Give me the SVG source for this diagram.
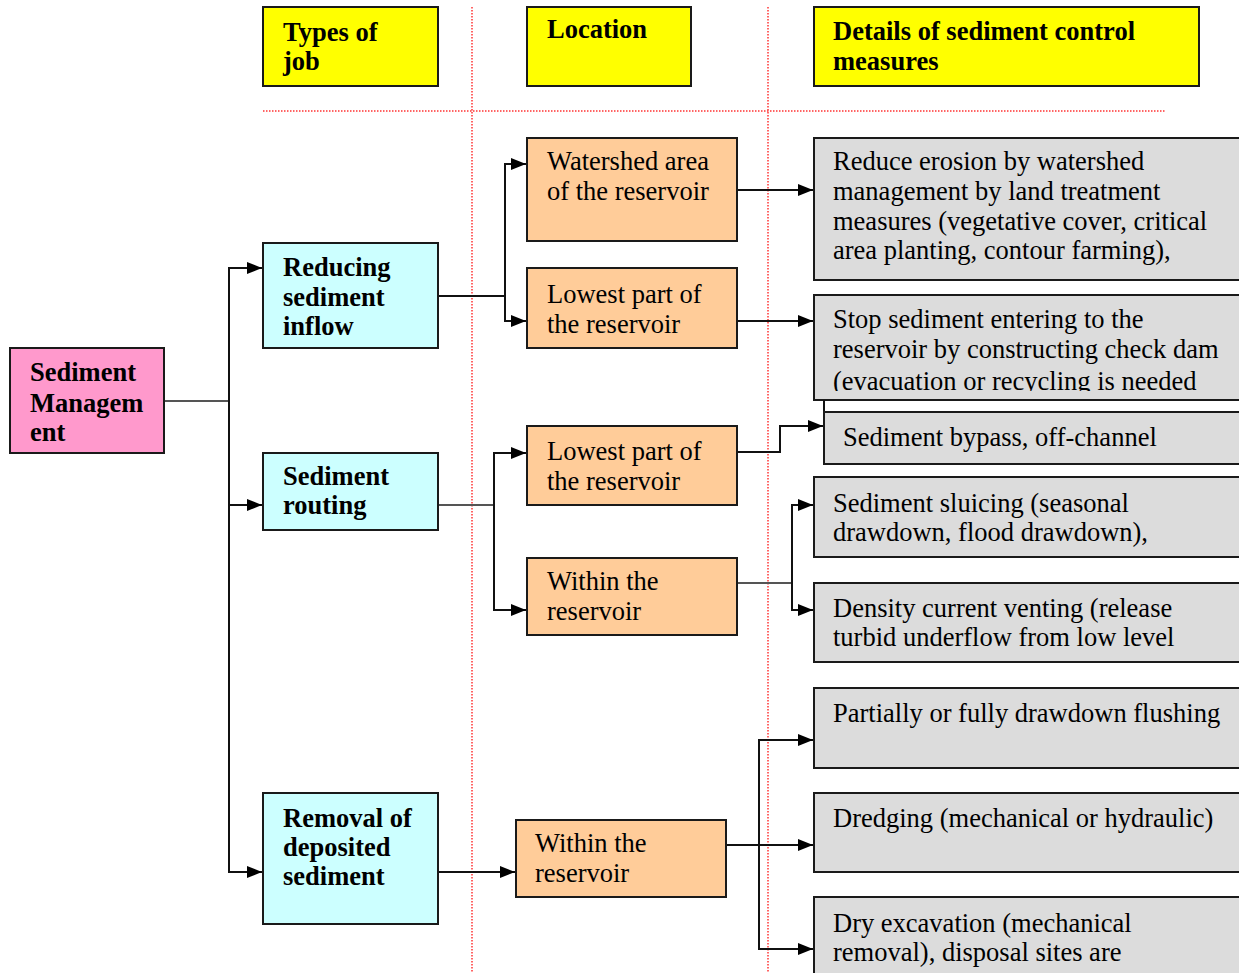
<svg xmlns="http://www.w3.org/2000/svg" width="1239" height="973" viewBox="0 0 1239 973">
<style>
.box{stroke:#1a1a1a;stroke-width:2}
.hdr{fill:#ffff00}
.root{fill:#ff99cc}
.job{fill:#ccffff}
.loc{fill:#ffcc99}
.det{fill:#dcdcdc}
.b{font-family:"Liberation Serif","Times New Roman",serif;font-size:26.5px;font-weight:bold;fill:#000}
.r{font-family:"Liberation Serif","Times New Roman",serif;font-size:26.5px;fill:#000}
.c{fill:none;stroke:#111;stroke-width:2}
.g{fill:none;stroke:#555;stroke-width:2}
.red{fill:none;stroke:#ff3333;stroke-width:1.5;stroke-dasharray:1.5 1.5}
</style>
<defs>
<marker id="ah" markerUnits="userSpaceOnUse" markerWidth="15" markerHeight="12" refX="15" refY="6" orient="auto">
<path d="M0,0 L15,6 L0,12 z" fill="#000"/>
</marker>
<clipPath id="clip2"><rect x="814" y="295" width="430" height="96"/></clipPath>
</defs>
<rect width="1239" height="973" fill="#fff"/>

<g id="gridlines">
<line class="red" x1="472" y1="7" x2="472" y2="973"/>
<line class="red" x1="768" y1="7" x2="768" y2="973"/>
<line class="red" x1="263" y1="111" x2="1166" y2="111"/>
</g>

<g id="connectors">
<polyline class="g" points="164,401 229,401"/>
<polyline class="c" points="229,401 229,268 262,268" marker-end="url(#ah)"/>
<polyline class="c" points="229,401 229,505 262,505" marker-end="url(#ah)"/>
<polyline class="c" points="229,505 229,872 262,872" marker-end="url(#ah)"/>

<polyline class="c" points="438,296 505,296"/>
<polyline class="c" points="505,296 505,164 526,164" marker-end="url(#ah)"/>
<polyline class="c" points="505,296 505,321 526,321" marker-end="url(#ah)"/>

<polyline class="g" points="438,505 494,505"/>
<polyline class="c" points="494,505 494,453 526,453" marker-end="url(#ah)"/>
<polyline class="c" points="494,505 494,610 526,610" marker-end="url(#ah)"/>

<polyline class="c" points="438,872 515,872" marker-end="url(#ah)"/>

<polyline class="c" points="737,190 813,190" marker-end="url(#ah)"/>
<polyline class="c" points="737,321 813,321" marker-end="url(#ah)"/>
<polyline class="c" points="737,452 780,452 780,426 823,426" marker-end="url(#ah)"/>

<polyline class="g" points="737,583 792,583"/>
<polyline class="c" points="792,583 792,505 813,505" marker-end="url(#ah)"/>
<polyline class="c" points="792,583 792,610 813,610" marker-end="url(#ah)"/>

<polyline class="c" points="726,845 759,845"/>
<polyline class="c" points="759,845 759,740 813,740" marker-end="url(#ah)"/>
<polyline class="c" points="759,845 813,845" marker-end="url(#ah)"/>
<polyline class="c" points="759,845 759,949 813,949" marker-end="url(#ah)"/>
</g>

<g id="hdr-types">
<rect class="box hdr" x="263" y="7" width="175" height="79"/>
<text class="b" x="283" y="41">Types of</text>
<text class="b" x="283" y="70">job</text>
</g>
<g id="hdr-location">
<rect class="box hdr" x="527" y="7" width="164" height="79"/>
<text class="b" x="547" y="38">Location</text>
</g>
<g id="hdr-details">
<rect class="box hdr" x="814" y="7" width="385" height="79"/>
<text class="b" x="833" y="40">Details of sediment control</text>
<text class="b" x="833" y="70">measures</text>
</g>

<g id="root">
<rect class="box root" x="10" y="348" width="154" height="105"/>
<text class="b" x="30" y="381">Sediment</text>
<text class="b" x="30" y="412">Managem</text>
<text class="b" x="30" y="441">ent</text>
</g>

<g id="job-reducing">
<rect class="box job" x="263" y="243" width="175" height="105"/>
<text class="b" x="283" y="276">Reducing</text>
<text class="b" x="283" y="306">sediment</text>
<text class="b" x="283" y="335">inflow</text>
</g>
<g id="job-routing">
<rect class="box job" x="263" y="453" width="175" height="77"/>
<text class="b" x="283" y="485">Sediment</text>
<text class="b" x="283" y="514">routing</text>
</g>
<g id="job-removal">
<rect class="box job" x="263" y="793" width="175" height="131"/>
<text class="b" x="283" y="827">Removal of</text>
<text class="b" x="283" y="856">deposited</text>
<text class="b" x="283" y="885">sediment</text>
</g>

<g id="loc-watershed">
<rect class="box loc" x="527" y="138" width="210" height="103"/>
<text class="r" x="547" y="170">Watershed area</text>
<text class="r" x="547" y="200">of the reservoir</text>
</g>
<g id="loc-lowest1">
<rect class="box loc" x="527" y="268" width="210" height="80"/>
<text class="r" x="547" y="303">Lowest part of</text>
<text class="r" x="547" y="333">the reservoir</text>
</g>
<g id="loc-lowest2">
<rect class="box loc" x="527" y="426" width="210" height="79"/>
<text class="r" x="547" y="460">Lowest part of</text>
<text class="r" x="547" y="490">the reservoir</text>
</g>
<g id="loc-within1">
<rect class="box loc" x="527" y="558" width="210" height="77"/>
<text class="r" x="547" y="590">Within the</text>
<text class="r" x="547" y="620">reservoir</text>
</g>
<g id="loc-within2">
<rect class="box loc" x="516" y="820" width="210" height="77"/>
<text class="r" x="535" y="852">Within the</text>
<text class="r" x="535" y="882">reservoir</text>
</g>

<g id="det-erosion">
<rect class="box det" x="814" y="138" width="430" height="142"/>
<text class="r" x="833" y="170">Reduce erosion by watershed</text>
<text class="r" x="833" y="200">management by land treatment</text>
<text class="r" x="833" y="230">measures (vegetative cover, critical</text>
<text class="r" x="833" y="259">area planting, contour farming),</text>
</g>
<g id="det-checkdam">
<rect class="box det" x="814" y="295" width="430" height="105"/>
<g clip-path="url(#clip2)">
<text class="r" x="833" y="328">Stop sediment entering to the</text>
<text class="r" x="833" y="358">reservoir by constructing check dam</text>
<text class="r" x="833" y="390">(evacuation or recycling is needed</text>
</g>
</g>
<g id="det-bypass">
<line class="c" x1="824" y1="400" x2="824" y2="412"/>
<rect class="box det" x="824" y="412" width="420" height="52"/>
<text class="r" x="843" y="446">Sediment bypass, off-channel</text>
</g>
<g id="det-sluicing">
<rect class="box det" x="814" y="477" width="430" height="80"/>
<text class="r" x="833" y="512">Sediment sluicing (seasonal</text>
<text class="r" x="833" y="541">drawdown, flood drawdown),</text>
</g>
<g id="det-venting">
<rect class="box det" x="814" y="583" width="430" height="79"/>
<text class="r" x="833" y="617">Density current venting (release</text>
<text class="r" x="833" y="646">turbid underflow from low level</text>
</g>
<g id="det-flushing">
<rect class="box det" x="814" y="688" width="430" height="80"/>
<text class="r" x="833" y="722">Partially or fully drawdown flushing</text>
</g>
<g id="det-dredging">
<rect class="box det" x="814" y="793" width="430" height="79"/>
<text class="r" x="833" y="827">Dredging (mechanical or hydraulic)</text>
</g>
<g id="det-dry">
<rect class="box det" x="814" y="897" width="430" height="90"/>
<text class="r" x="833" y="932">Dry excavation (mechanical</text>
<text class="r" x="833" y="961">removal), disposal sites are</text>
</g>
</svg>
